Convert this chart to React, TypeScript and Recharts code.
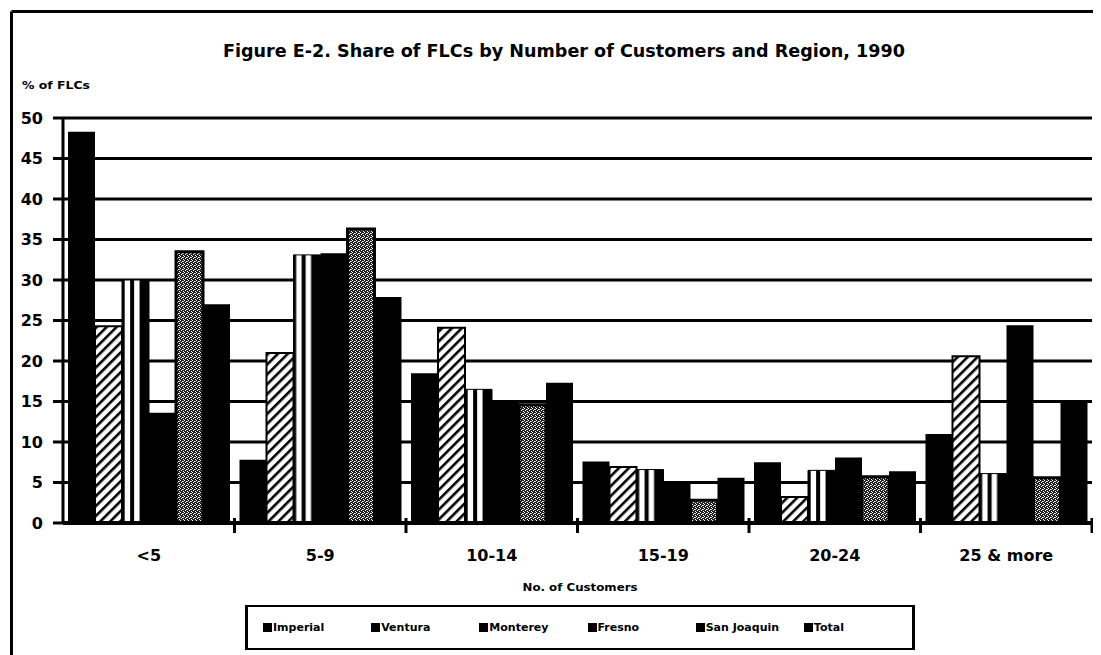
import { BarChart, Bar, XAxis, YAxis, CartesianGrid } from 'recharts';

const categories = ['<5', '5-9', '10-14', '15-19', '20-24', '25 & more'];
const imperial = [48.3, 7.8, 18.5, 7.6, 7.5, 11.0];
const ventura = [24.3, 21.0, 24.1, 6.9, 3.2, 20.6];
const monterey = [30.0, 33.1, 16.5, 6.6, 6.5, 6.1];
const fresno = [13.6, 33.3, 15.0, 4.9, 8.1, 24.4];
const sanJoaquin = [33.5, 36.3, 14.6, 2.8, 5.7, 5.6];
const total = [27.0, 27.9, 17.3, 5.6, 6.4, 15.2];
const yTicks = [0, 5, 10, 15, 20, 25, 30, 35, 40, 45, 50];

const legendItems = ['Imperial', 'Ventura', 'Monterey', 'Fresno', 'San Joaquin', 'Total'];

const data = categories.map((name, i) => ({
  name,
  imperial: imperial[i],
  ventura: ventura[i],
  monterey: monterey[i],
  fresno: fresno[i],
  sanJoaquin: sanJoaquin[i],
  total: total[i],
}));

const W = 1093;
const H = 647;
const MARGIN = { top: 110, right: 9, bottom: 92, left: 0 };
const Y_W = 55;
const X_H = 40;
const PLOT_BOTTOM = H - MARGIN.bottom - X_H;
const BAND = (W - MARGIN.left - MARGIN.right - Y_W) / categories.length;
const FONT = '"DejaVu Sans", Arial, sans-serif';

function XTick(props: any) {
  const { x, payload } = props;
  const edge = x + BAND / 2;
  return (
    <g>
      <line x1={edge} x2={edge} y1={PLOT_BOTTOM - 5} y2={PLOT_BOTTOM + 10} stroke="#000" strokeWidth={3} />
      <text x={x} y={PLOT_BOTTOM + 38} textAnchor="middle" fontFamily={FONT} fontWeight="bold" fontSize={16} fill="#000">
        {payload.value}
      </text>
    </g>
  );
}

export default function App() {
  return (
    <div style={{ position: 'relative', width: W, height: H, background: '#fff' }}>
      <BarChart width={W} height={H} data={data} margin={MARGIN} barCategoryGap={5} barGap={0}>
        <defs>
          <pattern id="hatch" patternUnits="userSpaceOnUse" width="7" height="7" patternTransform="rotate(45)">
            <rect width="7" height="7" fill="#fff" />
            <rect x="0" y="0" width="2.6" height="7" fill="#000" />
          </pattern>
          <pattern id="vstripe" patternUnits="objectBoundingBox" patternContentUnits="objectBoundingBox" width="1" height="1">
            <rect x="0" y="0" width="1" height="1" fill="#000" />
            <rect x="0.1" y="0" width="0.2" height="1" fill="#fff" />
            <rect x="0.45" y="0" width="0.2" height="1" fill="#fff" />
          </pattern>
          <pattern id="stipple" patternUnits="userSpaceOnUse" width="4" height="4">
            <rect width="4" height="4" fill="#222" />
            <rect x="0" y="0" width="1" height="1" fill="#fff" />
            <rect x="2" y="1" width="1" height="1" fill="#fff" />
            <rect x="1" y="2" width="1" height="1" fill="#fff" />
            <rect x="3" y="3" width="1" height="1" fill="#fff" />
            <rect x="3" y="1" width="1" height="1" fill="#bbb" />
          </pattern>
        </defs>

        <line x1={3.5} x2={W} y1={3.5} y2={3.5} stroke="#000" strokeWidth={3} />
        <line x1={3.5} x2={3.5} y1={3.5} y2={H} stroke="#000" strokeWidth={3} />

        <text x={556} y={49} textAnchor="middle" fontFamily={FONT} fontWeight="bold" fontSize={17} fill="#000"
          textLength={682} lengthAdjust="spacingAndGlyphs">
          Figure E-2.  Share of FLCs by Number of Customers and Region, 1990
        </text>
        <text x={14} y={81} fontFamily={FONT} fontWeight="bold" fontSize={11} fill="#000"
          textLength={68} lengthAdjust="spacingAndGlyphs">
          % of FLCs
        </text>
        <text x={572} y={583} textAnchor="middle" fontFamily={FONT} fontWeight="bold" fontSize={11} fill="#000"
          textLength={115} lengthAdjust="spacingAndGlyphs">
          No. of Customers
        </text>

        <CartesianGrid vertical={false} stroke="#000" strokeWidth={3} />
        <XAxis
          dataKey="name"
          height={X_H}
          axisLine={{ stroke: '#000', strokeWidth: 4 }}
          tickLine={false}
          tick={<XTick />}
          interval={0}
        />
        <YAxis
          width={Y_W}
          domain={[0, 50]}
          ticks={yTicks}
          interval={0}
          axisLine={{ stroke: '#000', strokeWidth: 3 }}
          tickLine={{ stroke: '#000', strokeWidth: 3 }}
          tickSize={10}
          tickMargin={10}
          tick={{ fill: '#000', fontSize: 16, fontWeight: 'bold', fontFamily: FONT }}
        />
        <Bar dataKey="imperial" fill="#000" isAnimationActive={false} />
        <Bar dataKey="ventura" fill="url(#hatch)" stroke="#000" strokeWidth={2} isAnimationActive={false} />
        <Bar dataKey="monterey" fill="url(#vstripe)" stroke="#000" strokeWidth={1} isAnimationActive={false} />
        <Bar dataKey="fresno" fill="#000" isAnimationActive={false} />
        <Bar dataKey="sanJoaquin" fill="url(#stipple)" stroke="#000" strokeWidth={3} isAnimationActive={false} />
        <Bar dataKey="total" fill="#000" isAnimationActive={false} />
      </BarChart>

      <div
        style={{
          position: 'absolute',
          left: 237,
          top: 597,
          width: 649,
          height: 41,
          borderTop: '2px solid #000',
          borderBottom: '2px solid #000',
          borderLeft: '3px solid #000',
          borderRight: '3px solid #000',
          display: 'flex',
          alignItems: 'center',
          paddingLeft: 15,
          boxSizing: 'content-box',
        }}
      >
        {legendItems.map((label) => (
          <div key={label} style={{ width: 109, display: 'flex', alignItems: 'center' }}>
            <span style={{ display: 'inline-block', width: 9, height: 9, background: '#000', marginRight: 1 }} />
            <span style={{ fontFamily: FONT, fontWeight: 'bold', fontSize: 11, color: '#000' }}>{label}</span>
          </div>
        ))}
      </div>
    </div>
  );
}
